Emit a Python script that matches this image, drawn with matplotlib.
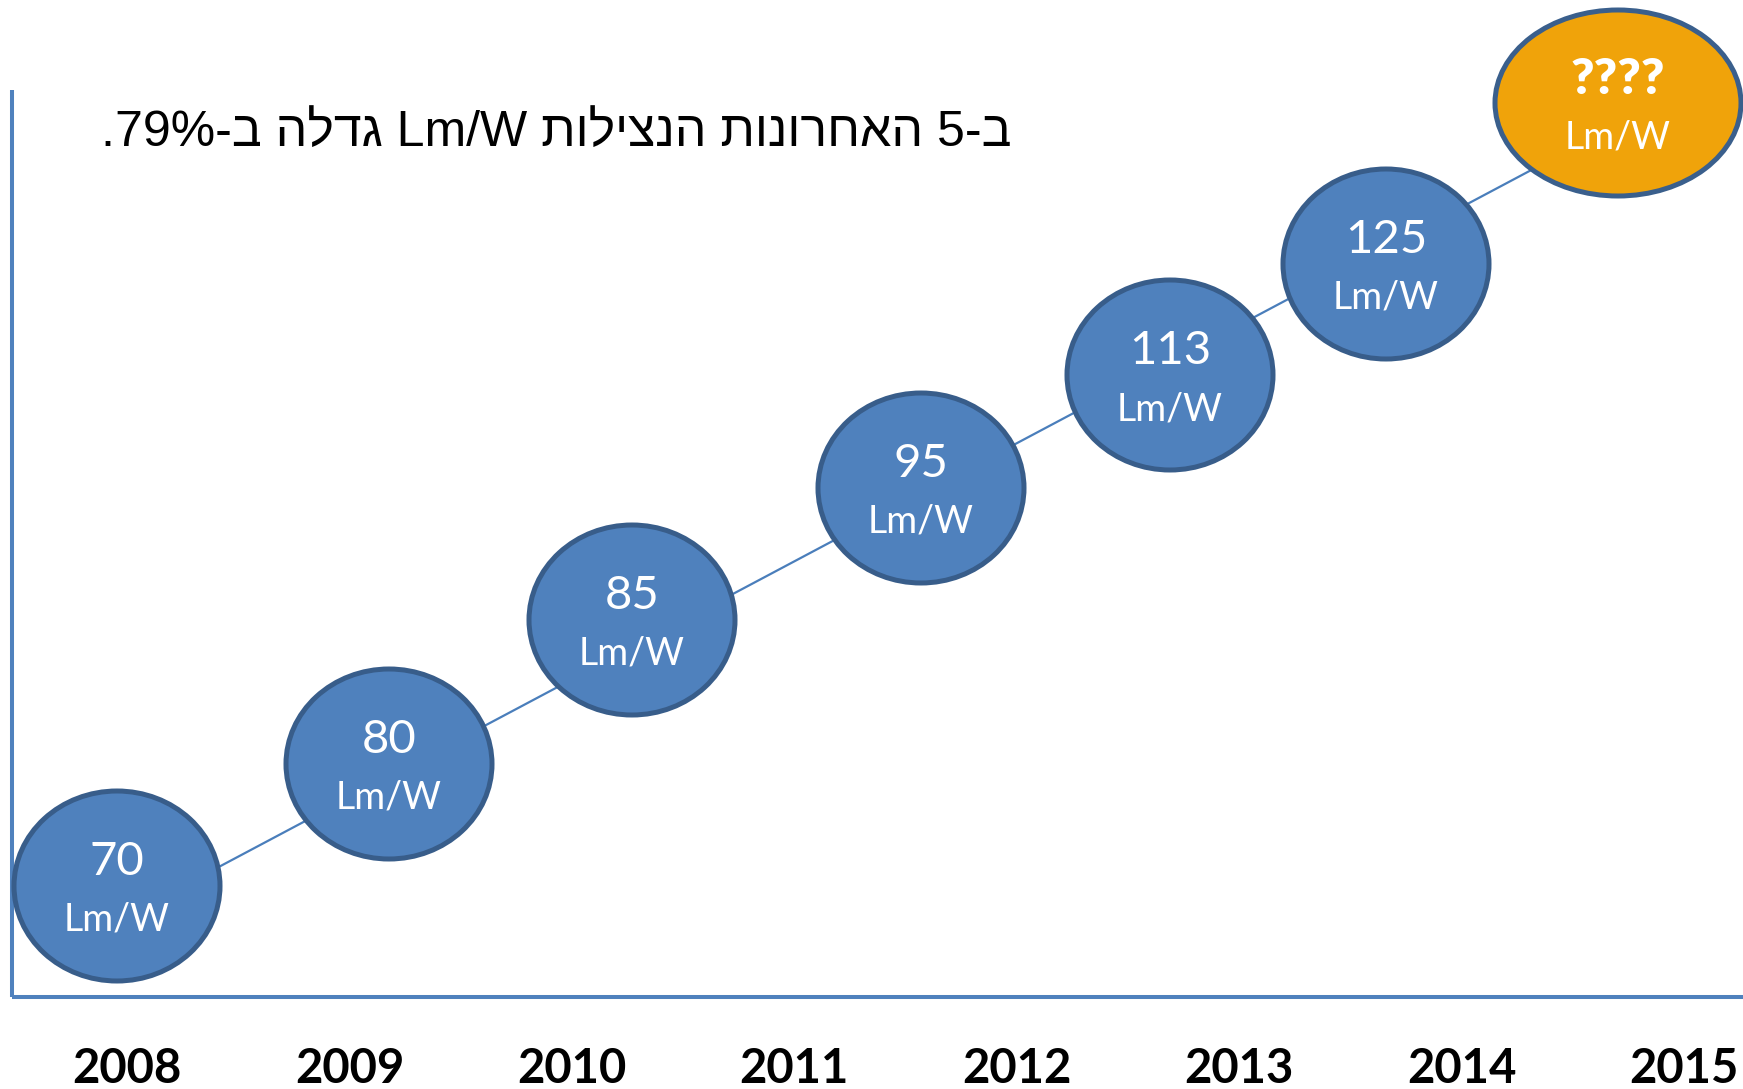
import numpy as np
import matplotlib.pyplot as plt
from matplotlib.patches import Ellipse

# data
years = ['2008', '2009', '2010', '2011', '2012', '2013', '2014', '2015']
values = ['70', '80', '85', '95', '113', '125', '????']
unit = 'Lm/W'
# title (visual order, right-to-left text already reversed for drawing)
title = '.79%-ב הלדג Lm/W תוליצנה תונורחאה 5-ב'

# layout (pixel coords of the slide)
W, H = 1743, 1089
cx = [117, 389, 632, 921, 1170, 1386, 1618]
cy = [886, 764, 620, 488, 375, 264, 103]
# connector runs a bit below the centres
line_x = [117, 1618]
line_y = [921, 124]

fig = plt.figure(figsize=(W / 100, H / 100), dpi=100)
ax = fig.add_axes([0, 0, 1, 1])
ax.set_xlim(0, W)
ax.set_ylim(H, 0)
ax.axis('off')

# axis lines
ax.plot([12, 12], [90, 997], color='#4F81BD', lw=2.9, solid_capstyle='butt')
ax.plot([12, W], [997, 997], color='#4F81BD', lw=2.9, solid_capstyle='butt')

# connecting line
ax.plot(line_x, line_y, color='#4A7EBB', lw=1.6, zorder=1)

for i, v in enumerate(values):
	last = i == len(values) - 1
	if last:
		e = Ellipse((cx[i], cy[i]), 246, 186, facecolor='#F0A30A', edgecolor='#3A5F8C', lw=3.6, zorder=2)
	else:
		e = Ellipse((cx[i], cy[i]), 206, 190, facecolor='#4F81BD', edgecolor='#385D8A', lw=3.6, zorder=2)
	ax.add_patch(e)
	ax.text(cx[i], cy[i] - 24, v, color='white', fontsize=36 if last else 34,
			fontweight='heavy' if last else 'normal', family='Lato',
			ha='center', va='center', zorder=3)
	ax.text(cx[i], cy[i] + 34, unit, color='white', fontsize=27, family='Lato',
			ha='center', va='center', zorder=3)

# year labels
yx = np.linspace(127, 1684, len(years))
for x, y in zip(yx, years):
	ax.text(x, 1083, y, fontsize=34, fontweight='bold', family='Lato',
			ha='center', va='baseline', color='black')

ax.text(556, 146, title, fontsize=36, family=['Liberation Sans', 'DejaVu Sans'],
		ha='center', va='baseline', color='black')

fig.savefig('out.png', dpi=100)
